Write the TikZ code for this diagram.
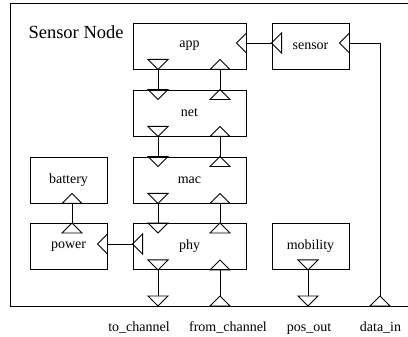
\documentclass[tikz,border=0pt]{standalone}
\usepackage{fontspec}
\setmainfont{Liberation Serif}
\usetikzlibrary{calc}
\tikzset{
  wire/.style={line width=0.9pt},
  box/.style={draw, wire, minimum width=113pt, minimum height=46pt, inner sep=0pt,
    font=\fontsize{14}{16}\selectfont},
  sbox/.style={box, minimum width=77pt},
  lab/.style={anchor=base, font=\fontsize{14}{16}\selectfont},
  % o = apex on the edge, i = base on the edge
  pics/odown/.style={code={\draw[wire] (0,0) -- (-10,-10) -- (10,-10) -- cycle;}},
  pics/idown/.style={code={\draw[wire] (-10,0) -- (10,0) -- (0,10) -- cycle;}},
  pics/oup/.style={code={\draw[wire] (0,0) -- (-10,10) -- (10,10) -- cycle;}},
  pics/iup/.style={code={\draw[wire] (-10,0) -- (10,0) -- (0,-10) -- cycle;}},
  pics/oleft/.style={code={\draw[wire] (0,0) -- (10,-10) -- (10,10) -- cycle;}},
  pics/ileft/.style={code={\draw[wire] (0,-10) -- (0,10) -- (-10,0) -- cycle;}},
}

\begin{document}
\begin{tikzpicture}[x=1pt,y=-1pt]
  \useasboundingbox (0,0) rectangle (408,337);

  % frame
  \coordinate (bot) at (0,306);
  \coordinate (inrow) at (0,296);
  \draw[wire] (408,3) -- (10,3) -- (10,306) -- (408,306);
  \node[anchor=base west, font=\fontsize{18.5}{20}\selectfont] (title) at (25,39) {Sensor Node};

  % boxes
  \node[box] (app) at (189.5,46) {app};
  \node[box] (net) at (189.5,113) {net};
  \node[box] (mac) at (189.5,180) {mac};
  \node[box] (phy) at (189.5,246.5) {phy};
  \node[sbox] (sensor) at (310.5,46) {sensor};
  \node[sbox] (battery) at (68.5,180) {battery};
  \node[sbox] (power) at (68.5,246.5) {power};
  \node[sbox] (mobility) at (310.5,246.5) {mobility};

  % columns and rows of the ports
  \coordinate (to) at (158,0);
  \coordinate (from) at (220,0);
  \coordinate (batcol) at (72,0);
  \coordinate (poscol) at (308,0);
  \coordinate (datcol) at (380,0);
  \coordinate (snsrow) at (0,43);
  \coordinate (phyrow) at (0,244);

  % down the stack
  \pic at (app.south -| to) {odown};
  \pic at (net.north -| to) {idown};
  \pic at (net.south -| to) {odown};
  \pic at (mac.north -| to) {idown};
  \pic at (mac.south -| to) {odown};
  \pic at (phy.north -| to) {idown};
  \pic at (phy.south -| to) {odown};
  \pic at (bot -| to) {odown};
  \draw[wire] (app.south -| to) -- (net.north -| to);
  \draw[wire] (net.south -| to) -- (mac.north -| to);
  \draw[wire] (mac.south -| to) -- (phy.north -| to);
  \draw[wire] (phy.south -| to) -- (inrow -| to);

  % up the stack
  \pic at (app.south -| from) {iup};
  \pic at (net.north -| from) {oup};
  \pic at (net.south -| from) {iup};
  \pic at (mac.north -| from) {oup};
  \pic at (mac.south -| from) {iup};
  \pic at (phy.north -| from) {oup};
  \pic at (phy.south -| from) {iup};
  \pic at (bot -| from) {iup};
  \draw[wire] (app.south -| from) -- (net.north -| from);
  \draw[wire] (net.south -| from) -- (mac.north -| from);
  \draw[wire] (mac.south -| from) -- (phy.north -| from);
  \draw[wire] (phy.south -| from) -- (inrow -| from);

  % sensor
  \pic at (app.east |- snsrow) {ileft};
  \pic at (sensor.west |- snsrow) {oleft};
  \pic at (sensor.east |- snsrow) {ileft};
  \pic at (bot -| datcol) {iup};
  \draw[wire] (app.east |- snsrow) -- (sensor.west |- snsrow);
  \draw[wire] (sensor.east |- snsrow) -| (inrow -| datcol);

  % power
  \pic at (battery.south -| batcol) {iup};
  \pic at (power.north -| batcol) {oup};
  \pic at (power.east |- phyrow) {ileft};
  \pic at (phy.west |- phyrow) {oleft};
  \draw[wire] (battery.south -| batcol) -- (power.north -| batcol);
  \draw[wire] (power.east |- phyrow) -- (phy.west |- phyrow);

  % mobility
  \pic at (mobility.south -| poscol) {odown};
  \pic at (bot -| poscol) {odown};
  \draw[wire] (mobility.south -| poscol) -- (inrow -| poscol);

  % outside labels
  \node[lab] (tolab) at (139,332) {to\_channel};
  \node[lab] (fromlab) at (228,332) {from\_channel};
  \node[lab] (poslab) at (309,332) {pos\_out};
  \node[lab] (datlab) at (380.5,332) {data\_in};
\end{tikzpicture}
\end{document}
